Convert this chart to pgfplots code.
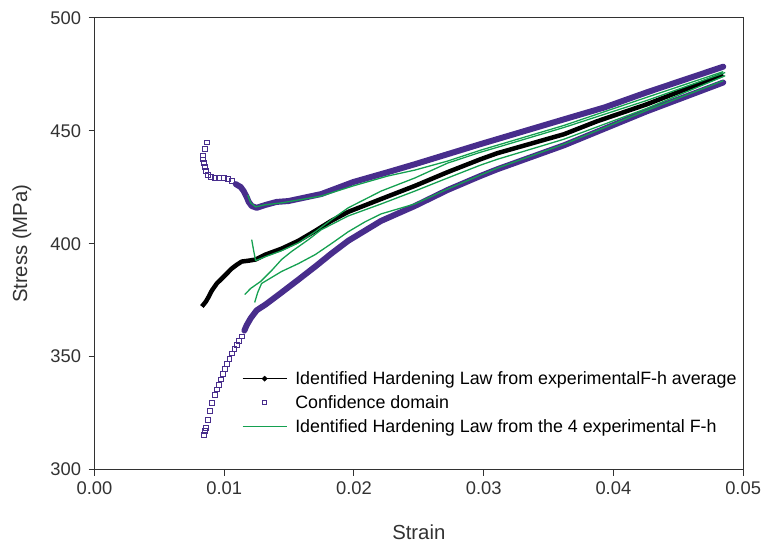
\documentclass[border=0pt]{standalone}
\usepackage{pgfplots}
\pgfplotsset{compat=1.18}
\usepackage{fontspec}
\setmainfont{Liberation Sans}
\definecolor{purp}{RGB}{72,45,140}
\definecolor{grn}{RGB}{20,160,80}
\definecolor{axc}{RGB}{50,50,50}
\begin{document}
\begin{tikzpicture}
\begin{axis}[name=ax, scale only axis, width=652bp, height=454bp,
  xmin=0, xmax=0.05, ymin=300, ymax=500,
  xtick={0,0.01,0.02,0.03,0.04,0.05}, ytick={300,350,400,450,500},
  scaled x ticks=false, scaled y ticks=false,
  /pgf/number format/assume math mode=true,
  xticklabel style={/pgf/number format/.cd, fixed, fixed zerofill, precision=2, /tikz/.cd, yshift=-3bp},
  yticklabel style={/pgf/number format/.cd, fixed, precision=0, /tikz/.cd, xshift=-4bp},
  tick label style={font=\fontsize{18.5}{21}\selectfont, text=axc},
  tick align=outside, tick pos=left, major tick length=6bp,
  every tick/.style={axc, line width=1bp},
  axis line style={axc, line width=1bp},
  xlabel={Strain}, ylabel={Stress (MPa)},
  label style={font=\fontsize{20.5}{24}\selectfont, text=axc},
  xlabel style={at={(axis description cs:0.5,-0.138)}, anchor=center},
  ylabel style={at={(axis description cs:-0.112,0.5)}, anchor=center},
  legend style={draw=none, fill=none, at={(axis description cs:0.227,0.222)}, anchor=north west,
    font=\fontsize{18}{21}\selectfont, row sep=5.5bp, inner sep=0pt,
    /tikz/column 1/.style={column sep=6bp}},
  legend cell align=left,
]
% confidence domain, upper bound (sparse squares)
\addplot[forget plot, only marks, mark=square, mark size=2.3bp, mark options={draw=purp, fill=white, line width=0.8bp}] coordinates {
(0.00867,444.9) (0.00851,441.9) (0.00836,439.2) (0.00836,437.4) (0.00844,435.7) (0.00851,433.9)
(0.00859,432.2) (0.00874,430.4) (0.00897,429.5) (0.00928,429.1) (0.00959,429.1) (0.00997,429.1)
(0.01028,428.6) (0.01058,427.8)
};
% confidence domain, upper bound (dense part)
\addplot[forget plot, purp, line width=6bp, line join=round, line cap=round] coordinates {
(0.01089,426.4) (0.01127,425.1) (0.01150,423.3) (0.01173,420.7) (0.01189,418.5) (0.01212,416.7)
(0.01250,415.9) (0.01319,417.2) (0.01403,418.5) (0.01495,418.9) (0.01748,422.0) (0.01994,427.3)
(0.02262,431.7) (0.02469,435.2) (0.02975,444.1) (0.03620,455.1) (0.03934,460.4) (0.04256,467.0)
(0.04847,478.4)
};
% confidence domain, lower bound (sparse squares)
\addplot[forget plot, only marks, mark=square, mark size=2.3bp, mark options={draw=purp, fill=white, line width=0.8bp}] coordinates {
(0.00844,315.4) (0.00852,317.0) (0.00859,318.5) (0.00874,322.0) (0.00890,326.0) (0.00905,329.5)
(0.00928,333.0) (0.00944,335.5) (0.00959,337.4) (0.00975,340.0) (0.00989,342.3) (0.01005,344.5)
(0.01020,346.7) (0.01040,349.0) (0.01058,351.5) (0.01078,353.5) (0.01097,355.1) (0.01115,357.0)
(0.01135,359.0)
};
% confidence domain, lower bound (dense part)
\addplot[forget plot, purp, line width=6bp, line join=round, line cap=round] coordinates {
(0.01155,361.5) (0.01173,363.9) (0.01204,367.0) (0.01250,370.5) (0.01319,373.1) (0.01442,378.4)
(0.01572,384.1) (0.01702,389.9) (0.01825,395.6) (0.01956,401.3) (0.02209,410.1) (0.02469,416.7)
(0.02722,423.8) (0.02975,430.0) (0.03106,433.0) (0.03620,443.6) (0.04256,458.6) (0.04847,471.4)
};
% average hardening law (black)
\addplot[forget plot, black, line width=4.5bp, line join=round] coordinates {
(0.00828,372.2) (0.00859,374.4) (0.00882,376.7) (0.00905,379.3) (0.00943,382.4) (0.00982,384.6)
(0.01020,386.8) (0.01058,389.0) (0.01097,390.7) (0.01135,392.1) (0.01189,392.5) (0.01242,393.0)
(0.01319,395.2) (0.01442,397.8) (0.01572,401.3) (0.01702,405.7) (0.01825,410.1) (0.01956,414.1)
(0.02209,419.8) (0.02469,425.6) (0.02722,431.7) (0.02975,437.4) (0.03106,440.1) (0.03620,448.5)
(0.03873,454.2) (0.04256,461.7) (0.04847,474.9)
};
% four individual laws (green)
\addplot[forget plot, grn, line width=1.3bp, line join=round] coordinates {
(0.01181,421.6) (0.01204,418.1) (0.01242,416.3) (0.01311,417.2) (0.01442,418.1) (0.01748,421.1)
(0.01994,425.6) (0.02262,430.0) (0.02469,432.6) (0.02722,436.6) (0.02975,441.4) (0.03620,452.4)
(0.04256,464.8) (0.04847,476.2)
};
\addplot[forget plot, grn, line width=1.3bp, line join=round] coordinates {
(0.01212,401.8) (0.01227,396.9) (0.01242,392.5) (0.01319,394.3) (0.01442,396.9) (0.01572,400.4)
(0.01702,405.3) (0.01825,410.6) (0.01956,415.9) (0.02209,423.3) (0.02469,429.1) (0.02722,435.7)
(0.02975,440.5) (0.03106,442.7) (0.03620,451.5) (0.04256,463.4) (0.04862,475.8)
};
\addplot[forget plot, grn, line width=1.3bp, line join=round] coordinates {
(0.01158,377.5) (0.01204,380.2) (0.01281,383.3) (0.01365,388.1) (0.01442,393.0) (0.01518,396.5)
(0.01649,401.8) (0.01748,406.2) (0.01956,412.3) (0.02209,417.6) (0.02469,423.3) (0.02722,429.1)
(0.02975,434.8) (0.03106,437.4) (0.03620,446.3) (0.04256,459.9) (0.04862,474.4)
};
\addplot[forget plot, grn, line width=1.3bp, line join=round] coordinates {
(0.01235,374.0) (0.01258,378.4) (0.01288,382.4) (0.01442,387.7) (0.01572,391.2) (0.01702,395.2)
(0.01825,400.0) (0.01956,405.3) (0.02086,409.7) (0.02209,413.2) (0.02339,415.4) (0.02469,417.6)
(0.02722,424.2) (0.02975,430.4) (0.03106,433.5) (0.03620,444.1) (0.04256,459.0) (0.04847,472.2)
};
% legend
\addlegendimage{legend image code/.code={\draw[black,line width=1.1bp] (0bp,0bp) -- (44bp,0bp);
  \fill[black] (22bp,2.6bp) -- (24.6bp,0bp) -- (22bp,-2.6bp) -- (19.4bp,0bp) -- cycle;}}
\addlegendentry{Identified Hardening Law from experimentalF-h average}
\addlegendimage{legend image code/.code={\draw[purp,line width=0.8bp,fill=white] (19.8bp,-2.2bp) rectangle (24.2bp,2.2bp);}}
\addlegendentry{Confidence domain}
\addlegendimage{legend image code/.code={\draw[grn,line width=1.6bp] (0bp,0bp) -- (44bp,0bp);}}
\addlegendentry{Identified Hardening Law from the 4 experimental F-h}
\end{axis}
\pgfresetboundingbox
\path ([shift={(-95bp,-74bp)}]ax.south west) rectangle ([shift={(20bp,18bp)}]ax.north east);
\end{tikzpicture}
\end{document}
